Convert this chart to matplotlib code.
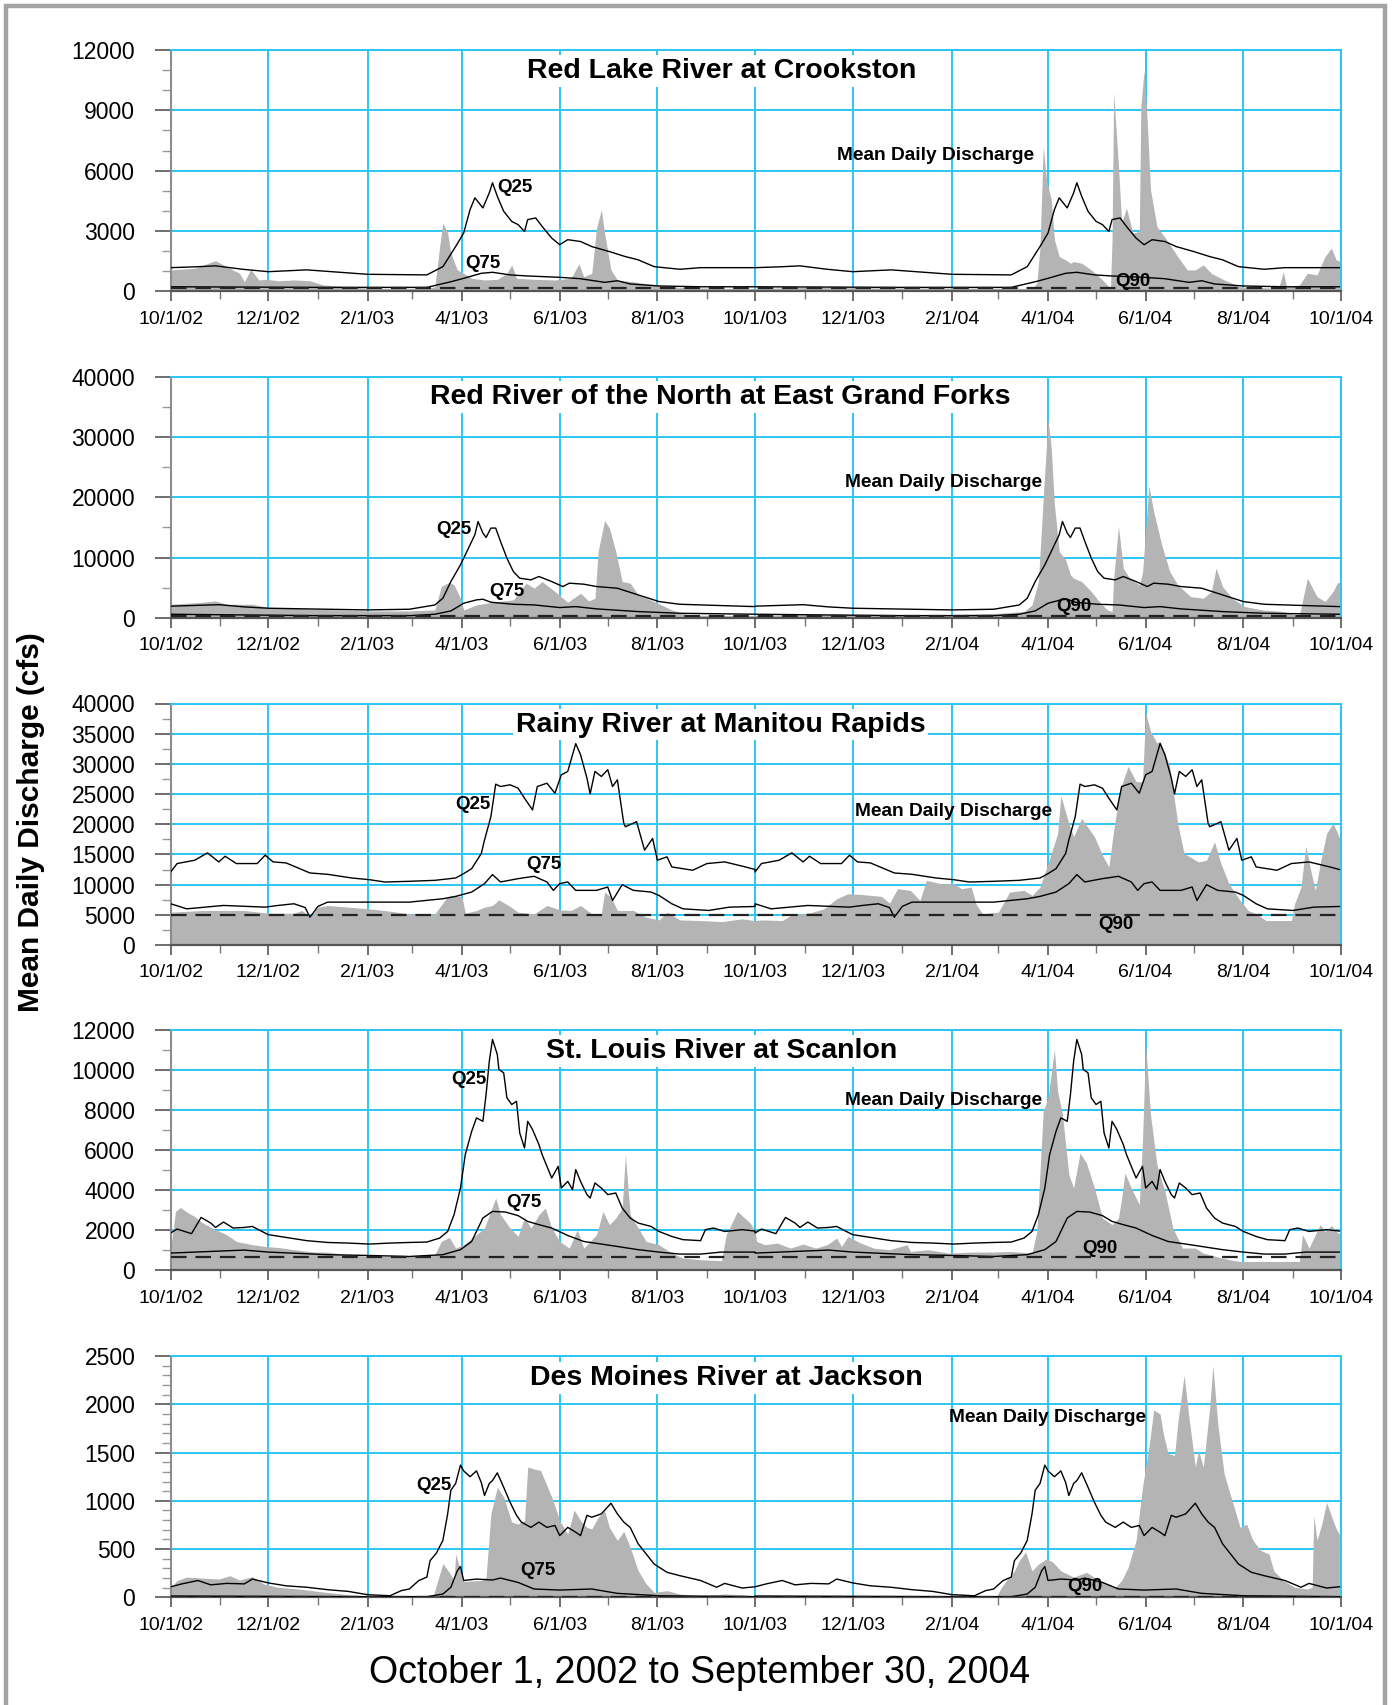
import numpy as np
import matplotlib
matplotlib.use("Agg")
import matplotlib.pyplot as plt
import matplotlib.dates as mdates
from matplotlib.ticker import MultipleLocator, FixedLocator, FixedFormatter
from matplotlib.patches import Rectangle
from datetime import datetime

plt.rcParams['font.family'] = ['Liberation Sans', 'DejaVu Sans']

# ---------------- data (day = days since 10/1/2002) ----------------
START = datetime(2002, 10, 1)
END = datetime(2004, 10, 1)

major_tick_dates = ["2002-10-01", "2002-12-01", "2003-02-01", "2003-04-01", "2003-06-01",
                    "2003-08-01", "2003-10-01", "2003-12-01", "2004-02-01", "2004-04-01",
                    "2004-06-01", "2004-08-01", "2004-10-01"]
major_tick_labels = ["10/1/02", "12/1/02", "2/1/03", "4/1/03", "6/1/03", "8/1/03", "10/1/03",
                     "12/1/03", "2/1/04", "4/1/04", "6/1/04", "8/1/04", "10/1/04"]
minor_tick_dates = ["2002-11-01", "2003-01-01", "2003-03-01", "2003-05-01", "2003-07-01",
                    "2003-09-01", "2003-11-01", "2004-01-01", "2004-03-01", "2004-05-01",
                    "2004-07-01", "2004-09-01"]

titles = ["Red Lake River at Crookston",
          "Red River of the North at East Grand Forks",
          "Rainy River at Manitou Rapids",
          "St. Louis River at Scanlon",
          "Des Moines River at Jackson"]

# --- Red Lake River at Crookston ---
rl_q25 = [(0,1180),(15,1220),(28,1270),(45,1100),(61,980),(85,1070),(123,850),(160,820),(170,1230),
          (178,2230),(183,2900),(187,4070),(190,4650),(195,4150),(199,4900),(201,5400),(204,4730),
          (208,3980),(213,3480),(217,3320),(221,2980),(223,3570),(228,3650),(232,3230),(238,2650),
          (243,2320),(248,2570),(256,2480),(263,2230),(274,1980),(284,1730),(292,1570),(302,1230),
          (318,1100),(331,1180),(365,1180)]
rl_q75 = [(0,230),(30,220),(90,200),(160,200),(175,480),(183,650),(194,900),(201,950),(212,820),
          (222,770),(243,700),(256,630),(261,570),(271,450),(279,530),(287,370),(305,270),(331,230),
          (365,230)]
rl_q90 = 150
rl_flow = [(0,1070),(15,1150),(28,1530),(35,1230),(43,900),(46,480),(50,1100),(55,570),(60,600),
           (67,530),(77,570),(87,530),(95,320),(111,230),(124,150),(160,150),(165,230),(168,2230),
           (170,3400),(173,2900),(175,1900),(179,1070),(183,900),(188,650),(196,570),(204,600),
           (210,900),(213,1320),(216,650),(227,600),(240,570),(250,650),(255,1370),(258,730),(263,900),
           (266,3150),(269,4070),(271,2900),(275,1070),(279,570),(289,480),(302,320),(318,200),
           (344,150),(365,150),(400,200),(450,170),(538,150),(541,400),(543,2230),(545,7200),
           (547,5570),(550,4570),(552,2570),(555,1730),(559,1570),(562,1400),(564,1480),(569,1400),
           (575,1070),(580,730),(585,320),(587,150),(588,2570),(589,9900),(592,6230),(594,3400),
           (597,4150),(601,2900),(605,2980),(606,9230),(608,11000),(610,8400),(612,5070),(616,3230),
           (622,2570),(629,1730),(635,1070),(640,1070),(645,1320),(650,900),(658,570),(668,230),
           (679,200),(692,150),(695,980),(697,230),(705,320),(710,900),(716,820),(721,1730),
           (725,2150),(728,1570),(731,1480)]

# --- Red River of the North at East Grand Forks ---
rr_q25 = [(0,1900),(30,2150),(46,1780),(61,1560),(98,1390),(123,1280),(149,1390),(165,2100),
          (170,3220),(175,6000),(181,8780),(186,11560),(190,13800),(192,16000),(195,14070),
          (197,13340),(200,14900),(203,14900),(206,12680),(210,9900),(214,7670),(218,6560),
          (225,6280),(230,6840),(238,6000),(245,5170),(249,5730),(258,5560),(266,5170),(279,4890),
          (292,3780),(305,2670),(318,2220),(344,2000),(365,1830)]
rr_q75 = [(0,560),(46,440),(90,330),(150,330),(165,560),(175,1110),(183,2390),(191,2950),(195,3060),
          (200,2560),(214,2220),(227,2110),(243,1670),(253,1830),(266,1450),(292,1000),(318,720),
          (365,560)]
rr_q90 = 300
rr_flow = [(0,2220),(20,2560),(28,2780),(35,2220),(51,2220),(55,2000),(61,1720),(85,1450),
           (124,1110),(149,1110),(165,1280),(169,5170),(174,5890),(177,5450),(181,3220),(183,1280),
           (191,2110),(201,2560),(214,2950),(222,5730),(227,4890),(232,6000),(240,4340),(248,2560),
           (256,4060),(261,2780),(265,3220),(267,11000),(271,16180),(274,14900),(278,11000),
           (282,6000),(287,5730),(292,3780),(302,2670),(313,1280),(323,440),(344,330),(365,330),
           (400,500),(480,450),(517,720),(533,1000),(538,2110),(542,6000),(545,19900),(548,33000),
           (550,28240),(552,18800),(555,11000),(559,9620),(562,7120),(564,6560),(569,6000),
           (575,4340),(580,2670),(585,1280),(588,1000),(589,6560),(592,15180),(595,8230),(599,6560),
           (605,5450),(607,7400),(611,21960),(614,17680),(619,12120),(624,7670),(629,5450),
           (637,3500),(645,3220),(650,4340),(653,8230),(657,5170),(663,3220),(671,1830),(682,1280),
           (695,1000),(705,330),(710,6560),(716,3500),(721,2670),(726,4340),(729,5890),(731,5700)]

# --- Rainy River at Manitou Rapids ---
rn_q25 = [(0,12100),(4,13490),(15,14040),(23,15260),(30,13760),(34,14700),(41,13490),(54,13490),
          (59,14870),(64,13760),(72,13600),(82,12490),(87,11930),(98,11710),(113,11100),(124,10820),
          (134,10430),(149,10550),(165,10710),(178,11100),(183,11820),(188,12650),(194,15150),
          (196,17370),(200,21260),(203,26640),(206,26250),(212,26530),(217,25970),(221,24310),
          (226,22370),(229,26250),(235,26800),(240,25140),(244,28190),(248,28750),(253,33360),
          (256,31520),(260,27640),(262,25030),(265,28750),(269,27920),(273,29030),(276,26250),
          (279,27360),(283,20150),(284,19590),(291,20420),(296,15710),(301,17650),(304,14040),
          (310,14600),(313,12930),(326,12380),(335,13490),(346,13760),(359,12930),(365,12500)]
rn_q75 = [(0,6830),(10,5990),(33,6550),(59,6270),(67,6550),(77,6830),(84,6200),(87,4600),(92,6400),
          (98,7100),(124,7100),(149,7100),(170,7660),(178,8050),(188,8770),(196,10160),(201,11660),
          (206,10440),(217,10990),(227,11380),(235,10440),(239,9050),(243,10160),(248,10440),
          (253,9050),(266,9050),(273,9600),(276,7380),(282,9990),(289,9050),(300,8770),(305,8210),
          (313,6830),(320,5990),(336,5720),(349,6270),(365,6380)]
rn_q90 = 5000
rn_flow = [(0,5440),(20,5720),(46,5720),(61,5270),(77,5270),(82,5720),(87,4600),(92,6270),(98,6550),
           (111,6270),(124,5990),(137,5600),(149,5160),(165,5160),(173,8050),(178,8210),(182,7940),
           (184,5270),(191,5720),(196,6270),(201,6550),(205,7490),(212,6380),(217,5440),(227,5160),
           (235,6550),(243,5830),(250,5720),(256,6550),(263,5160),(269,5160),(271,8770),(275,7940),
           (279,5720),(289,5720),(297,4600),(305,4160),(310,5440),(318,4160),(331,4050),(344,3880),
           (357,4330),(365,4050),(369,4160),(382,4050),(387,4880),(401,5440),(408,5990),(416,7660),
           (423,8490),(431,8380),(444,8050),(449,6940),(454,9320),(462,9050),(468,7380),(472,10710),
           (481,10160),(489,10160),(494,9320),(500,9600),(503,6830),(507,5160),(517,5440),
           (524,8770),(533,9050),(538,8210),(543,9600),(548,13490),(554,18480),(556,24700),
           (561,20150),(564,17930),(569,20980),(577,17930),(582,14870),(586,12930),(589,19040),
           (593,25700),(598,29580),(603,27080),(607,27000),(609,38460),(612,35400),(616,33470),
           (618,33750),(624,29580),(629,20150),(633,15150),(642,13760),(647,14040),(652,17090),
           (656,13490),(661,10160),(668,7380),(673,5720),(679,5050),(684,4050),(700,4050),
           (702,6830),(706,9600),(709,16370),(713,11270),(715,9050),(718,13490),(722,18480),
           (726,20150),(728,19040),(731,17090)]

# --- St. Louis River at Scanlon ---
sl_q25 = [(0,1850),(4,2050),(13,1820),(19,2630),(25,2350),(28,2130),(33,2400),(39,2100),(46,2130),
          (51,2180),(56,1970),(61,1770),(72,1630),(85,1470),(98,1380),(111,1350),(124,1300),
          (137,1350),(149,1380),(160,1400),(168,1600),(173,1930),(177,2770),(181,4100),(184,5770),
          (188,6930),(191,7600),(195,7430),(197,8770),(199,10430),(201,11520),(204,10770),
          (205,10020),(208,9850),(210,8600),(213,8270),(216,8430),(218,6850),(221,6100),(223,7430),
          (226,7020),(230,6270),(232,5770),(238,4600),(242,5180),(244,4100),(248,4430),(251,4020),
          (253,5020),(256,4430),(260,3770),(262,3600),(265,4350),(269,4100),(273,3770),(278,3850),
          (282,3100),(287,2600),(292,2350),(300,2180),(305,1930),(313,1680),(320,1520),(331,1470),
          (334,2020),(339,2100),(346,1930),(357,2020),(365,1950)]
sl_q75 = [(0,850),(46,1000),(61,900),(98,770),(124,730),(149,680),(170,770),(181,1020),(188,1430),
          (195,2600),(201,2930),(209,2900),(217,2720),(223,2430),(230,2270),(238,2100),(248,1730),
          (258,1430),(269,1300),(279,1180),(292,1020),(305,900),(318,800),(331,800),(344,900),
          (365,900)]
sl_q90 = 650
sl_flow = [(0,1100),(3,2930),(6,3130),(11,2850),(15,2680),(20,2350),(28,2020),(35,1770),(41,1430),
           (46,1350),(51,1270),(59,1180),(67,1130),(77,1020),(90,900),(98,900),(111,770),(124,680),
           (149,680),(165,770),(169,1430),(174,1630),(178,1100),(183,1270),(191,1770),(196,2100),
           (203,3600),(206,2770),(212,2100),(217,1680),(221,2630),(225,2100),(230,2770),(234,3100),
           (238,2100),(243,1430),(249,1100),(254,2020),(258,1100),(266,1770),(270,2930),(274,2270),
           (278,2600),(282,3100),(284,5770),(287,2770),(292,2100),(297,1430),(305,1270),(313,850),
           (320,600),(331,520),(344,470),(347,1770),(354,2930),(362,2350),(365,1930),(366,1430),
           (371,1270),(379,1350),(387,1100),(395,1300),(403,1100),(410,1270),(416,1600),(419,1180),
           (423,1680),(431,1350),(439,1100),(449,1020),(460,1270),(462,930),(473,1020),(486,850),
           (499,900),(512,900),(525,930),(538,850),(541,1930),(545,7930),(548,8600),(552,11020),
           (554,8930),(557,7770),(561,4770),(564,4100),(568,5850),(572,5350),(577,4100),(582,2600),
           (588,2270),(592,2600),(594,3600),(596,4850),(600,4100),(605,3270),(607,6430),(609,11270),
           (612,7770),(616,5270),(621,3930),(626,2100),(632,1100),(640,1100),(645,850),(653,680),
           (661,520),(668,430),(705,430),(707,1770),(711,1100),(715,1770),(718,2270),(721,1930),
           (725,2230),(728,1930),(731,1770)]

# --- Des Moines River at Jackson ---
dm_q25 = [(0,110),(7,140),(17,175),(25,130),(35,145),(46,140),(51,190),(61,150),(72,120),(85,105),
          (98,80),(111,62),(123,28),(137,17),(144,70),(149,87),(155,175),(160,210),(162,380),
          (166,460),(170,590),(173,865),(175,1110),(178,1180),(181,1370),(183,1310),(187,1250),
          (191,1310),(194,1190),(196,1055),(199,1180),(201,1210),(204,1290),(208,1140),(212,985),
          (216,850),(219,780),(225,725),(230,780),(235,725),(240,745),(243,640),(248,725),(253,675),
          (256,640),(260,850),(263,830),(269,865),(275,975),(279,865),(283,780),(287,725),(292,555),
          (297,450),(302,345),(310,260),(318,225),(331,175),(341,105),(346,145),(357,97),(365,110)]
dm_q75 = [(0,14),(124,7),(160,7),(170,35),(175,105),(179,275),(181,320),(183,175),(191,190),
          (201,180),(206,200),(217,155),(227,87),(243,76),(263,87),(279,42),(305,17),(365,7)]
dm_q90 = 5
dm_flow = [(0,105),(4,175),(10,210),(20,200),(30,190),(37,225),(43,180),(51,215),(58,140),(67,105),
           (80,87),(92,62),(111,28),(124,14),(149,7),(164,17),(168,240),(170,350),(174,260),
           (177,175),(178,450),(181,275),(183,165),(194,175),(197,210),(200,865),(204,1140),
           (208,1040),(213,780),(217,760),(221,795),(223,1350),(227,1330),(231,1315),(238,1040),
           (243,795),(248,655),(252,905),(256,795),(260,725),(263,710),(267,830),(271,900),(274,725),
           (279,590),(283,685),(287,520),(292,275),(297,140),(302,52),(310,70),(318,35),(331,14),
           (346,35),(357,28),(365,17),(400,10),(500,7),(516,17),(519,105),(522,175),(527,275),
           (530,380),(534,470),(538,275),(542,345),(547,400),(551,365),(556,275),(564,210),(572,260),
           (580,175),(585,140),(590,105),(594,175),(598,310),(603,590),(607,1140),(611,1555),
           (614,1940),(618,1900),(620,1695),(623,1490),(627,1470),(629,1800),(633,2300),(636,1870),
           (640,1350),(642,1520),(645,1350),(649,1970),(651,2400),(654,1800),(658,1280),(663,1000),
           (668,725),(672,760),(676,590),(681,485),(686,450),(689,275),(695,175),(702,105),(710,87),
           (713,105),(714,850),(716,590),(719,760),(722,985),(726,795),(728,710),(730,655)]

y_max = [12000, 40000, 40000, 12000, 2500]
y_major = [3000, 10000, 5000, 2000, 500]
y_minor = [1000, 5000, 2500, 1000, 100]

q25_sets = [rl_q25, rr_q25, rn_q25, sl_q25, dm_q25]
q75_sets = [rl_q75, rr_q75, rn_q75, sl_q75, dm_q75]
q90_vals = [rl_q90, rr_q90, rn_q90, sl_q90, dm_q90]
flow_sets = [rl_flow, rr_flow, rn_flow, sl_flow, dm_flow]

# label positions (axes fraction)
title_pos = [(0.471, 0.912), (0.470, 0.918), (0.470, 0.913), (0.471, 0.913), (0.475, 0.909)]
q25_pos = [(0.279, 0.432), (0.227, 0.367), (0.243, 0.581), (0.240, 0.792), (0.210, 0.464)]
q75_pos = [(0.252, 0.117), (0.272, 0.109), (0.304, 0.333), (0.287, 0.281), (0.299, 0.113)]
q90_pos = [(0.807, 0.041), (0.757, 0.045), (0.793, 0.086), (0.779, 0.090), (0.766, 0.045)]
mdd_pos = [(0.569, 0.562), (0.576, 0.564), (0.585, 0.553), (0.576, 0.704), (0.665, 0.746)]

# panel pixel extents (top, bottom) in a 1394x1705 figure
panel_px = [(50.0, 291.4), (377.3, 617.6), (703.5, 945.0), (1029.8, 1270.1), (1356.0, 1597.4)]

# ---------------- drawing ----------------
W, H = 1394, 1705
fig = plt.figure(figsize=(W / 100, H / 100), dpi=100)
fig.patch.set_facecolor('white')

GRID = '#2BC6F4'
FILL = '#B4B4B4'
base = mdates.date2num(START)
xend = mdates.date2num(END)

def two_years(pairs):
    d = np.array([p[0] for p in pairs], float)
    v = np.array([p[1] for p in pairs], float)
    return base + np.concatenate([d, d + 365]), np.concatenate([v, v])

left = 170.7 / W
width = (1341.0 - 170.7) / W

for i in range(5):
    top, bot = panel_px[i]
    ax = fig.add_axes([left, 1 - bot / H, width, (bot - top) / H])
    ax.set_axisbelow(True)

    fd = base + np.array([p[0] for p in flow_sets[i]], float)
    fv = np.array([p[1] for p in flow_sets[i]], float)
    ax.fill_between(fd, 0, fv, color=FILL, lw=0, zorder=2)

    x25, y25 = two_years(q25_sets[i])
    x75, y75 = two_years(q75_sets[i])
    ax.plot(x25, y25, color='black', lw=1.0, zorder=3)
    ax.plot(x75, y75, color='black', lw=1.0, zorder=3)
    ax.plot([base, xend], [q90_vals[i], q90_vals[i]], color='#222222', lw=1.6,
            dashes=(7, 4), zorder=3)

    ax.set_xlim(base, xend)
    ax.set_ylim(0, y_max[i])

    ax.xaxis.set_major_locator(FixedLocator(mdates.datestr2num(major_tick_dates)))
    ax.xaxis.set_major_formatter(FixedFormatter(major_tick_labels))
    ax.xaxis.set_minor_locator(FixedLocator(mdates.datestr2num(minor_tick_dates)))
    ax.yaxis.set_major_locator(MultipleLocator(y_major[i]))
    ax.yaxis.set_minor_locator(MultipleLocator(y_minor[i]))

    ax.grid(which='major', color=GRID, lw=1.4)
    ax.tick_params(axis='x', which='major', direction='out', length=7, width=1.2,
                   color='#555555', pad=7, labelsize=14)
    ax.tick_params(axis='x', which='minor', direction='out', length=6, width=1.0,
                   color='#777777')
    ax.tick_params(axis='y', which='major', direction='out', length=11.5, width=1.2,
                   color='#555555', pad=14, labelsize=16.5)
    ax.tick_params(axis='y', which='minor', direction='out', length=6.5, width=1.0,
                   color='#999999')

    for s in ('top', 'right'):
        ax.spines[s].set_color(GRID)
        ax.spines[s].set_linewidth(1.4)
    ax.spines['left'].set_color('#8C8C8C')
    ax.spines['left'].set_linewidth(1.5)
    ax.spines['bottom'].set_color('#555555')
    ax.spines['bottom'].set_linewidth(1.6)

    ax.text(title_pos[i][0], title_pos[i][1], titles[i], transform=ax.transAxes,
            ha='center', va='center', fontsize=20.5, fontweight='bold', zorder=5,
            bbox=dict(facecolor='white', edgecolor='none', pad=2))
    ax.text(q25_pos[i][0], q25_pos[i][1], 'Q25', transform=ax.transAxes,
            ha='left', va='center', fontsize=13.5, fontweight='bold', zorder=5)
    ax.text(q75_pos[i][0], q75_pos[i][1], 'Q75', transform=ax.transAxes,
            ha='left', va='center', fontsize=13.5, fontweight='bold', zorder=5)
    ax.text(q90_pos[i][0], q90_pos[i][1], 'Q90', transform=ax.transAxes,
            ha='left', va='center', fontsize=13.5, fontweight='bold', zorder=5)
    ax.text(mdd_pos[i][0], mdd_pos[i][1], 'Mean Daily Discharge', transform=ax.transAxes,
            ha='left', va='center', fontsize=13.8, fontweight='bold', zorder=5)

fig.text(0.022, 0.5176, 'Mean Daily Discharge (cfs)', rotation=90, ha='center', va='center',
         fontsize=21.5, fontweight='bold')
fig.text(0.502, 0.019, 'October 1, 2002 to September 30, 2004', ha='center', va='center',
         fontsize=27)

fig.patches.append(Rectangle((6 / W, -0.02), (1385 - 6) / W, 1.02 - 6 / H,
                             transform=fig.transFigure, fill=False,
                             edgecolor='#A3A3A3', lw=3.2))

fig.savefig('out.png', dpi=100, facecolor='white')
